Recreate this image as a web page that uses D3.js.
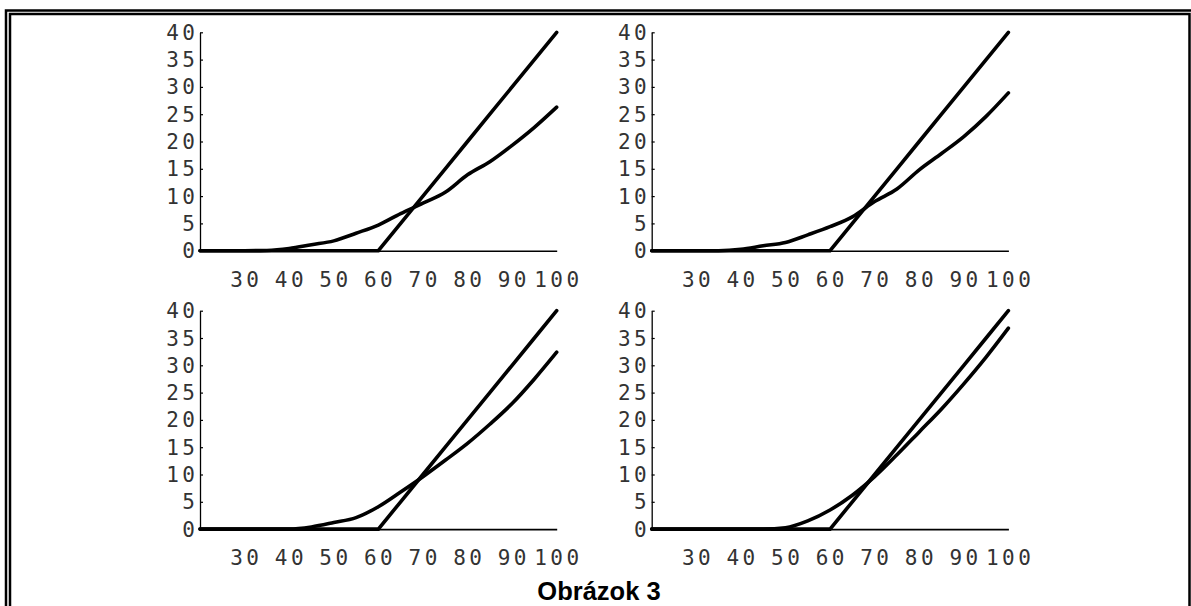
<!DOCTYPE html>
<html>
<head>
<meta charset="utf-8">
<script src="https://cdn.jsdelivr.net/npm/d3@7"></script>
<style>
  body { margin: 0; background: #fff; }
  svg { display: block; }
  .tick-label { font-family: "DejaVu Sans Mono", monospace; font-size: 21px; fill: #333; letter-spacing: 3.5px; }
</style>
</head>
<body>
<div class="graphs"></div>
<script>
const xs = [20, 25, 30, 35, 40, 45, 50, 55, 60, 65, 70, 75, 80, 85, 90, 95, 100]
const rampSeries = [0, 0, 0, 0, 0, 0, 0, 0, 0, 5, 10, 15, 20, 25, 30, 35, 40]
const curveTopLeft = [0, 0, 0, 0.05, 0.4, 1.1, 1.8, 3.2, 4.7, 6.8, 8.7, 10.7, 13.9, 16.3, 19.3, 22.6, 26.3]
const curveTopRight = [0, 0, 0, 0, 0.25, 0.9, 1.5, 2.9, 4.4, 6.2, 9, 11.3, 14.8, 17.8, 20.9, 24.6, 28.9]
const curveBottomLeft = [0, 0, 0, 0, 0, 0.4, 1.2, 2.1, 4.1, 6.8, 9.6, 12.6, 15.7, 19.2, 23, 27.5, 32.4]
const curveBottomRight = [0, 0, 0, 0, 0, 0, 0.25, 1.5, 3.5, 6.2, 9.6, 13.6, 17.8, 22, 26.6, 31.5, 36.8]
const xTicks = [30, 40, 50, 60, 70, 80, 90, 100]
const yTicks = [0, 5, 10, 15, 20, 25, 30, 35, 40]
const caption = "Obrázok 3"

const width = 1191
const height = 606

// where each small plot sits on the page
const panels = [
    { left: 200, top: 32.3, curve: curveTopLeft },
    { left: 651.7, top: 32.3, curve: curveTopRight },
    { left: 200, top: 310.7, curve: curveBottomLeft },
    { left: 651.7, top: 310.7, curve: curveBottomRight }
]
const panelWidth = 356.7
const panelHeight = 218.4

const svg = d3.select(".graphs")
    .append("svg")
    .attr("width", width)
    .attr("height", height)

// double frame round the figure
svg.append("path")
    .attr("d", "M6,606 V10.5 H1191")
    .attr("fill", "none")
    .attr("stroke", "black")
    .attr("stroke-width", 2.5)
svg.append("path")
    .attr("d", "M10,606 V14 H1189.5 V606")
    .attr("fill", "none")
    .attr("stroke", "black")
    .attr("stroke-width", 2.5)

const x = d3.scaleLinear().domain([20, 100]).range([0, panelWidth])
const y = d3.scaleLinear().domain([0, 40]).range([panelHeight, 0])

const smoothLine = d3.line()
    .x(function (d) { return x(d[0]) })
    .y(function (d) { return y(d[1]) })
    .curve(d3.curveMonotoneX)

const straightLine = d3.line()
    .x(function (d) { return x(d[0]) })
    .y(function (d) { return y(d[1]) })

function pairs(s) {
    return xs.map(function (v, i) { return [v, s[i]] })
}

panels.forEach(function (p) {
    const g = svg.append("g")
        .attr("transform", `translate(${p.left},${p.top})`)

    // y axis, small ticks pointing inward
    const yAxis = d3.axisRight(y)
        .tickValues(yTicks)
        .tickSize(3)
        .tickSizeOuter(0)
        .tickFormat("")
    g.append("g")
        .call(yAxis)
        .call(a => a.select(".domain").attr("stroke-width", 1.3))
        .call(a => a.selectAll(".tick line").attr("stroke-width", 1.2))

    g.selectAll(".ylab")
        .data(yTicks)
        .enter().append("text")
        .attr("class", "tick-label")
        .attr("x", -1.5)
        .attr("y", function (d) { return y(d) })
        .attr("dy", "0.36em")
        .attr("text-anchor", "end")
        .text(function (d) { return d })

    // x axis line along zero
    const xAxis = d3.axisBottom(x)
        .tickValues([])
        .tickSizeOuter(0)
    g.append("g")
        .attr("transform", `translate(0,${panelHeight})`)
        .call(xAxis)
        .call(a => a.select(".domain").attr("stroke-width", 1.6))

    g.selectAll(".xlab")
        .data(xTicks)
        .enter().append("text")
        .attr("class", "tick-label")
        .attr("x", function (d) { return x(d) + 1.75 })
        .attr("y", panelHeight + 28.8)
        .attr("dy", "0.36em")
        .attr("text-anchor", "middle")
        .text(function (d) { return d })

    g.append("path")
        .attr("d", straightLine(pairs(rampSeries)))
        .attr("fill", "none")
        .attr("stroke", "black")
        .attr("stroke-width", 3.6)
        .attr("stroke-linecap", "round")

    g.append("path")
        .attr("d", smoothLine(pairs(p.curve)))
        .attr("fill", "none")
        .attr("stroke", "black")
        .attr("stroke-width", 3.6)
        .attr("stroke-linejoin", "round")
        .attr("stroke-linecap", "round")
})

svg.append("text")
    .attr("x", 599)
    .attr("y", 599.5)
    .attr("text-anchor", "middle")
    .style("font-family", "'Liberation Sans', Arial, sans-serif")
    .style("font-size", "25.5px")
    .style("font-weight", "bold")
    .text(caption)
</script>
</body>
</html>
